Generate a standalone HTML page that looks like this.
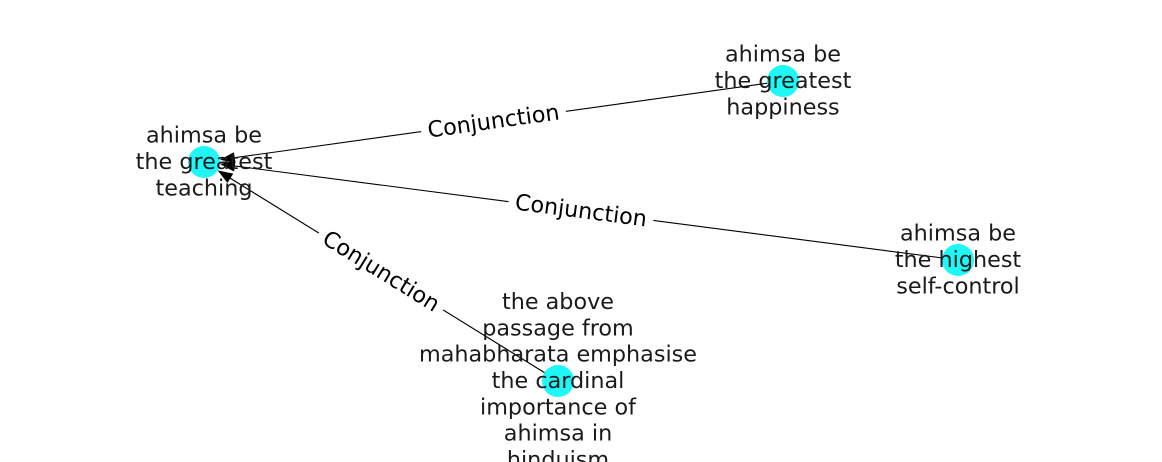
<!DOCTYPE html>
<html><head><meta charset="utf-8"><style>
html,body{margin:0;padding:0;background:#fff;}
svg{display:block;font-family:"DejaVu Sans","Liberation Sans",sans-serif;}
</style></head><body>
<svg id="g" width="1162" height="462"></svg>
<script>
const nodeIds = ["teach","happy","self","passage"];
const nodeX = [204, 783, 958, 558];
const nodeY = [162, 81, 260, 381];
const nodeLabels = [
 ["ahimsa be","the greatest","teaching"],
 ["ahimsa be","the greatest","happiness"],
 ["ahimsa be","the highest","self-control"],
 ["the above","passage from","mahabharata emphasise","the cardinal","importance of","ahimsa in","hinduism"]
];
const edgeSrc = [1, 2, 3];
const edgeDst = [0, 0, 0];
const edgeLabels = ["Conjunction","Conjunction","Conjunction"];

const NS="http://www.w3.org/2000/svg";
const svg=document.getElementById('g');
function mk(t,a,p){const e=document.createElementNS(NS,t);for(const k in a)e.setAttribute(k,a[k]);(p||svg).appendChild(e);return e;}
const R=16, LH=26.3, FS=22.3;
edgeSrc.forEach((s,i)=>{
  const d=edgeDst[i];
  const x1=nodeX[s],y1=nodeY[s],x2=nodeX[d],y2=nodeY[d];
  const dx=x2-x1,dy=y2-y1,L=Math.hypot(dx,dy),ux=dx/L,uy=dy/L;
  const ex=x2-ux*R,ey=y2-uy*R;
  const line=mk('line',{x1:x1,y1:y1,x2:ex-ux*8,y2:ey-uy*8,stroke:'#000','stroke-width':1.1});
  
  
  const al=15,aw=5.5,bx=ex-ux*al,by=ey-uy*al;
  const ah=mk('polygon',{points:`${ex},${ey} ${bx-uy*aw},${by+ux*aw} ${bx+uy*aw},${by-ux*aw}`,fill:'#000'});
  
  
  const mx=(x1+x2)/2,my=(y1+y2)/2;
  let ang=Math.atan2(dy,dx)*180/Math.PI; if(ang>90)ang-=180; if(ang<-90)ang+=180;
  const g=mk('g',{transform:`translate(${mx},${my}) rotate(${ang})`});
  
  
  mk('rect',{x:-73,y:-15,width:146,height:30,fill:'#fff'},g);
  const t=mk('text',{x:0,y:7,'text-anchor':'middle','font-size':FS,fill:'#000'},g);
  t.textContent=edgeLabels[i];
});
nodeIds.forEach((id,i)=>{
  const c=mk('circle',{cx:nodeX[i],cy:nodeY[i],r:R,fill:'#1ff7f7'});
  
  
});
nodeIds.forEach((id,i)=>{
  const lines=nodeLabels[i],n=lines.length;
  const t=mk('text',{'text-anchor':'middle','font-size':FS,fill:'#1a1a1a'});
  
  
  lines.forEach((s,k)=>{
    const ts=mk('tspan',{x:nodeX[i],y:nodeY[i]+(k-(n-1)/2)*LH+7},t);
    ts.textContent=s;
  });
});
</script>
</body></html>
